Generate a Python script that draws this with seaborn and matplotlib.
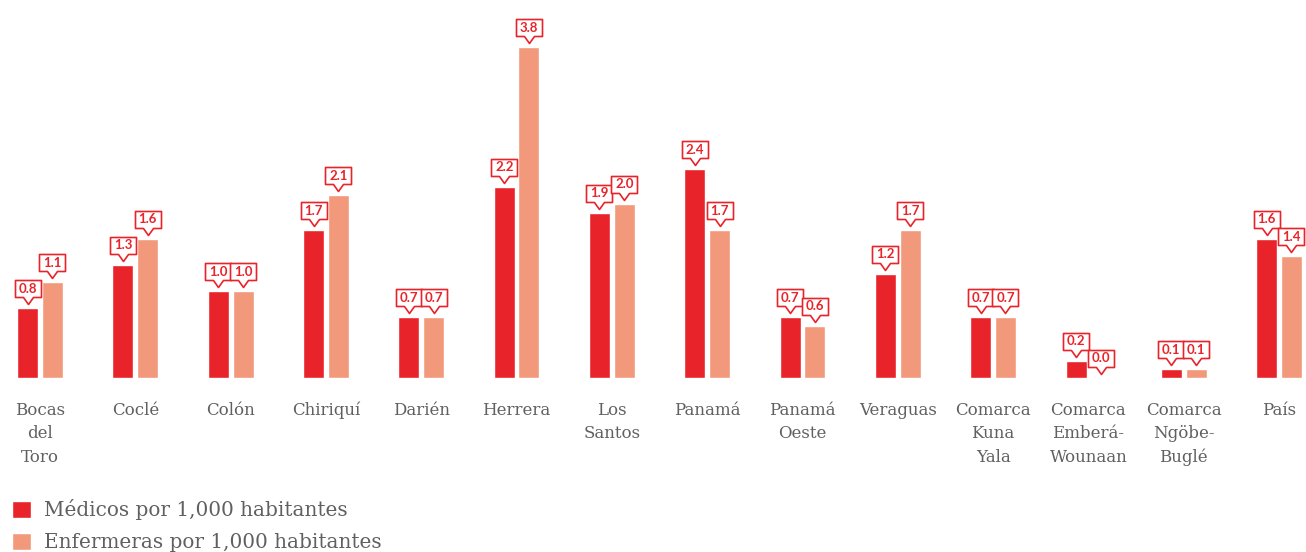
import numpy as np
import pandas as pd
import matplotlib
matplotlib.use("Agg")
import matplotlib.pyplot as plt
from matplotlib.path import Path
import seaborn as sns

provincias = ["Bocas\ndel\nToro", "Coclé", "Colón", "Chiriquí", "Darién", "Herrera",
              "Los\nSantos", "Panamá", "Panamá\nOeste", "Veraguas", "Comarca\nKuna\nYala",
              "Comarca\nEmberá-\nWounaan", "Comarca\nNgöbe-\nBuglé", "País"]
medicos = [0.8, 1.3, 1.0, 1.7, 0.7, 2.2, 1.9, 2.4, 0.7, 1.2, 0.7, 0.2, 0.1, 1.6]
enfermeras = [1.1, 1.6, 1.0, 2.1, 0.7, 3.8, 2.0, 1.7, 0.6, 1.7, 0.7, 0.0, 0.1, 1.4]
series = ["Médicos por 1,000 habitantes", "Enfermeras por 1,000 habitantes"]

rojo = "#e8232a"
salmon = "#f2987b"
gris = "#606060"

df = pd.DataFrame({
    "provincia": provincias * 2,
    "valor": medicos + enfermeras,
    "serie": [series[0]] * len(provincias) + [series[1]] * len(provincias),
})

sns.set_style("white")
plt.rcParams["font.family"] = ["DejaVu Serif"]

fig = plt.figure(figsize=(13.06, 5.52), dpi=100)
ax = fig.add_axes([0, 174 / 552, 1, 378 / 552])

sns.barplot(data=df, x="provincia", y="valor", hue="serie", order=provincias,
            hue_order=series, palette=[rojo, salmon], width=0.52, gap=0.154,
            saturation=1, ax=ax, errorbar=None)

ax.set_xlim(-0.42, 13.283)
ax.set_ylim(0, 378 / 87)
sns.despine(ax=ax, left=True, bottom=True)
ax.set_yticks([])
ax.set_xlabel("")
ax.set_ylabel("")
ax.tick_params(axis="x", length=0, pad=17, labelsize=12, labelcolor=gris)
for t in ax.get_xticklabels():
    t.set_linespacing(1.5)

# callout marker: box + pointer, in pixel units (tip 4px above bar)
px = [(-13, 11), (-13, 28), (13, 28), (13, 11), (5, 11), (0, 4), (-5, 11), (-13, 11)]
callout = Path(px, [Path.MOVETO] + [Path.LINETO] * 6 + [Path.CLOSEPOLY])
ms = 28 * 2 * 0.72

for cont, vals in zip(ax.containers, [medicos, enfermeras]):
    for bar, v in zip(cont, vals):
        xc = bar.get_x() + bar.get_width() / 2
        h = bar.get_height()
        ax.plot(xc, h, marker=callout, markersize=ms, markerfacecolor="white",
                markeredgecolor=rojo, markeredgewidth=1.2, clip_on=False, zorder=4)
        ax.annotate(f"{v:.1f}", (xc, h), xytext=(0, 19.5 * 0.72), textcoords="offset points",
                    ha="center", va="center", fontsize=9.5, fontweight="bold",
                    color=rojo, family="Lato", zorder=5, annotation_clip=False)

handles, labels = ax.get_legend_handles_labels()
ax.get_legend().remove()
fig.legend(handles, labels, loc="lower left", bbox_to_anchor=(12 / 1306, 0),
           frameon=False, fontsize=14.4, handlelength=0.95, handleheight=0.95,
           handletextpad=0.65, labelspacing=0.6, borderaxespad=0, borderpad=0,
           labelcolor=gris)

fig.savefig("out.png", dpi=100)
